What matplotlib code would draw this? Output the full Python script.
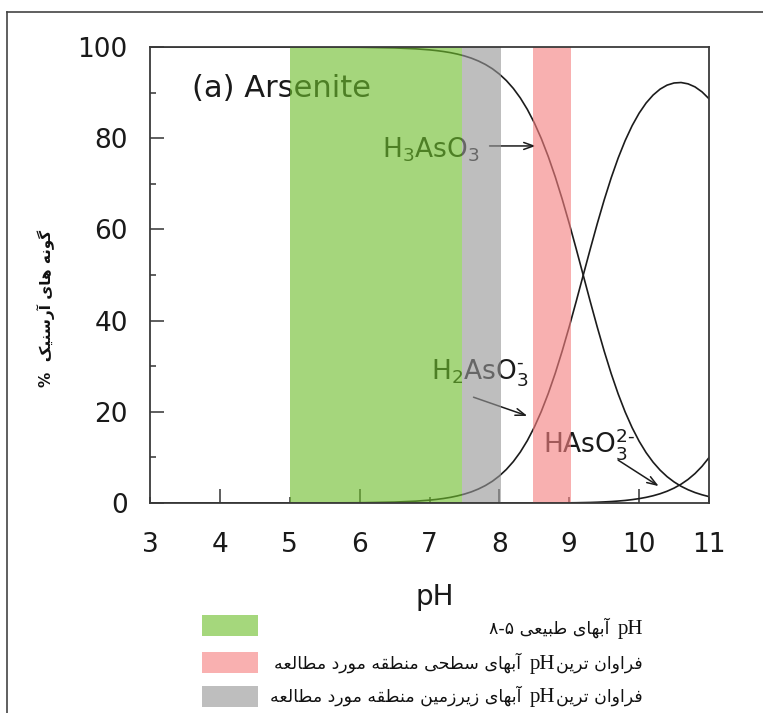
import matplotlib
matplotlib.use("Agg")
import matplotlib.pyplot as plt
from matplotlib.lines import Line2D
from matplotlib.patches import Rectangle
from matplotlib.offsetbox import TextArea, HPacker, AnnotationBbox
import matplotlib.colors as mcolors

# ---------------- data ----------------
ph = [3.0, 4.0, 5.0, 5.5, 6.0, 6.5, 6.8,
      7.0, 7.1, 7.2, 7.3, 7.4, 7.5, 7.6, 7.7, 7.8, 7.9,
      8.0, 8.1, 8.2, 8.3, 8.4, 8.5, 8.6, 8.7, 8.8, 8.9,
      9.0, 9.1, 9.2, 9.3, 9.4, 9.5, 9.6, 9.7, 9.8, 9.9,
      10.0, 10.1, 10.2, 10.3, 10.4, 10.5, 10.6, 10.7, 10.8, 10.9, 11.0]
h3aso3 = [100.0, 100.0, 99.99, 99.98, 99.94, 99.8, 99.6,
          99.37, 99.21, 99.01, 98.76, 98.44, 98.04, 97.55, 96.93, 96.17, 95.23,
          94.06, 92.64, 90.91, 88.82, 86.32, 83.37, 79.92, 75.96, 71.51, 66.59,
          61.29, 55.70, 49.96, 44.21, 38.62, 33.31, 28.38, 23.92, 19.96, 16.51,
          13.55, 11.04, 8.95, 7.21, 5.78, 4.62, 3.67, 2.91, 2.29, 1.80, 1.40]
h2aso3 = [0.0, 0.0, 0.01, 0.02, 0.06, 0.2, 0.4,
          0.63, 0.79, 0.99, 1.24, 1.56, 1.96, 2.45, 3.07, 3.83, 4.77,
          5.94, 7.36, 9.09, 11.18, 13.68, 16.63, 20.08, 24.03, 28.47, 33.38,
          38.67, 44.24, 49.96, 55.66, 61.21, 66.46, 71.30, 75.65, 79.47, 82.75,
          85.49, 87.72, 89.46, 90.76, 91.64, 92.11, 92.21, 91.92, 91.25, 90.16, 88.65]
haso3 = [0.0, 0.0, 0.0, 0.0, 0.0, 0.0, 0.0,
         0.0, 0.0, 0.0, 0.0, 0.0, 0.0, 0.0, 0.0, 0.0, 0.0,
         0.0, 0.0, 0.0, 0.0, 0.0, 0.0, 0.0, 0.01, 0.02, 0.03,
         0.04, 0.06, 0.09, 0.12, 0.17, 0.24, 0.32, 0.43, 0.56, 0.74,
         0.96, 1.24, 1.59, 2.03, 2.58, 3.27, 4.12, 5.17, 6.46, 8.04, 9.95]

band_lo = [5.0, 7.47, 8.48]
band_hi = [7.47, 8.03, 9.02]
band_names = ["natural", "groundwater", "surface"]
band_target = {"natural": "#a5d77c", "groundwater": "#bebebe", "surface": "#f9b0b0"}

x_ticks = [3, 4, 5, 6, 7, 8, 9, 10, 11]
x_labels = ["3", "4", "5", "6", "7", "8", "9", "10", "11"]
y_ticks = [0, 20, 40, 60, 80, 100]
y_labels = ["0", "20", "40", "60", "80", "100"]
y_minor = [10, 30, 50, 70, 90]

panel_title = "(a) Arsenite"
species_labels = [r"H$_3$AsO$_3$", r"H$_2$AsO$_3^{\text{-}}$", r"HAsO$_3^{2\text{-}}$"]
xlabel = "pH"
ylabel_fa = "گونه های آرسنیک  %"
legend_rows = [
    ("natural", "آبهای طبیعی ۵-۸", "pH", ""),
    ("surface", "آبهای سطحی منطقه مورد مطالعه", "pH", "فراوان ترین"),
    ("groundwater", "آبهای زیرزمین منطقه مورد مطالعه", "pH", "فراوان ترین"),
]

# ---------------- minimal Persian shaping (contextual forms + RTL order) ----------------
FORMS = {
    "ا": ("\uFE8D", "\uFE8E", None, None),
    "آ": ("\uFE81", "\uFE82", None, None),
    "ب": ("\uFE8F", "\uFE90", "\uFE91", "\uFE92"),
    "ت": ("\uFE95", "\uFE96", "\uFE97", "\uFE98"),
    "ح": ("\uFEA1", "\uFEA2", "\uFEA3", "\uFEA4"),
    "د": ("\uFEA9", "\uFEAA", None, None),
    "ر": ("\uFEAD", "\uFEAE", None, None),
    "ز": ("\uFEAF", "\uFEB0", None, None),
    "س": ("\uFEB1", "\uFEB2", "\uFEB3", "\uFEB4"),
    "ط": ("\uFEC1", "\uFEC2", "\uFEC3", "\uFEC4"),
    "ع": ("\uFEC9", "\uFECA", "\uFECB", "\uFECC"),
    "ف": ("\uFED1", "\uFED2", "\uFED3", "\uFED4"),
    "ق": ("\uFED5", "\uFED6", "\uFED7", "\uFED8"),
    "ل": ("\uFEDD", "\uFEDE", "\uFEDF", "\uFEE0"),
    "م": ("\uFEE1", "\uFEE2", "\uFEE3", "\uFEE4"),
    "ن": ("\uFEE5", "\uFEE6", "\uFEE7", "\uFEE8"),
    "ه": ("\uFEE9", "\uFEEA", "\uFEEB", "\uFEEC"),
    "و": ("\uFEED", "\uFEEE", None, None),
    "ی": ("\uFBFC", "\uFBFD", "\uFBFE", "\uFBFF"),
    "ک": ("\uFB8E", "\uFB8F", "\uFB90", "\uFB91"),
    "گ": ("\uFB92", "\uFB93", "\uFB94", "\uFB95"),
}


def shape_rtl(s):
    out = []
    for i, ch in enumerate(s):
        if ch not in FORMS:
            out.append(ch)
            continue
        prev = s[i - 1] if i > 0 else ""
        nxt = s[i + 1] if i + 1 < len(s) else ""
        iso, fin, ini, med = FORMS[ch]
        jp = prev in FORMS and FORMS[prev][2] is not None
        jn = ini is not None and nxt in FORMS
        out.append(med if (jp and jn) else fin if jp else ini if jn else iso)
    vis = out[::-1]
    # keep Latin runs left-to-right
    res, run = [], []
    for ch in vis:
        if ch.isascii() and ch.isalpha():
            run.append(ch)
        else:
            res.extend(run[::-1]); run = []
            res.append(ch)
    res.extend(run[::-1])
    return "".join(res)


def overlay_color(target, alpha):
    r, g, b = mcolors.to_rgb(target)
    return tuple(min(1, max(0, (c - (1 - alpha)) / alpha)) for c in (r, g, b))


# ---------------- figure ----------------
plt.rcParams["font.family"] = ["DejaVu Sans"]
plt.rcParams["mathtext.fontset"] = "dejavusans"

W, H = 763, 713
fig = plt.figure(figsize=(W / 100, H / 100), dpi=100)
ax = fig.add_axes([150 / W, 1 - 503 / H, 559 / W, 456 / H])

line_kw = dict(color="#1c1c1c", lw=1.2, zorder=2)
ax.plot(ph, h3aso3, **line_kw)
ax.plot(ph, h2aso3, **line_kw)
ax.plot(ph, haso3, **line_kw)

ALPHA = 0.62
for lo, hi, name in zip(band_lo, band_hi, band_names):
    ax.axvspan(lo, hi, color=overlay_color(band_target[name], ALPHA), alpha=ALPHA,
               lw=0, zorder=4)

ax.set_xlim(3, 11)
ax.set_ylim(0, 100)

xt_major = [t for t in x_ticks if t % 2 == 0]
xl_major = [l for t, l in zip(x_ticks, x_labels) if t % 2 == 0]
xt_minor = [t for t in x_ticks if t % 2 == 1]
xl_minor = [l for t, l in zip(x_ticks, x_labels) if t % 2 == 1]
ax.set_xticks(xt_major, xl_major)
ax.set_xticks(xt_minor, xl_minor, minor=True)
ax.set_yticks(y_ticks, y_labels)
ax.set_yticks(y_minor, minor=True)

ax.tick_params(axis="both", which="both", direction="in", color="#333333", width=1.1,
               labelsize=19, labelcolor="#1a1a1a", top=False, right=False)
ax.tick_params(axis="both", which="major", length=10)
ax.tick_params(axis="both", which="minor", length=4.5)
ax.tick_params(axis="x", which="both", pad=21)
ax.tick_params(axis="y", which="both", pad=16)
ax.tick_params(axis="y", which="minor", labelleft=False)

for sp in ax.spines.values():
    sp.set_color("#3a3a3a")
    sp.set_linewidth(1.3)
    sp.set_zorder(6)

ax.set_xlabel(xlabel, fontsize=20, color="#1a1a1a")
ax.xaxis.set_label_coords(0.51, -0.175)

txt_kw = dict(color="#1a1a1a", zorder=3)
ax.text(3.6, 91.0, panel_title, fontsize=22, ha="left", va="center", **txt_kw)
ax.text(7.72, 77.5, species_labels[0], fontsize=19, ha="right", va="center", **txt_kw)
ax.text(8.42, 28.5, species_labels[1], fontsize=19, ha="right", va="center", **txt_kw)
ax.text(8.62, 13.0, species_labels[2], fontsize=19, ha="left", va="center", **txt_kw)

arrow_kw = dict(arrowstyle="->,head_length=0.7,head_width=0.25", color="#1c1c1c", lw=1.1,
                shrinkA=0, shrinkB=0)
ax.annotate("", xy=(8.52, 78.3), xytext=(7.86, 78.3), arrowprops=arrow_kw, zorder=3)
ax.annotate("", xy=(8.40, 19.1), xytext=(7.63, 23.2), arrowprops=arrow_kw, zorder=3)
ax.annotate("", xy=(10.28, 3.7), xytext=(9.70, 9.4), arrowprops=arrow_kw, zorder=3)

# y label (Persian, rotated)
fig.text(46 / W, 1 - 308 / H, shape_rtl(ylabel_fa), rotation=90, ha="center", va="center",
         fontsize=11, fontweight="bold", color="#111111")

# ---------------- custom legend below the plot ----------------
rect_y = [615, 652, 686]
text_y = [628, 663, 696]
for (name, left_fa, ph_txt, right_fa), ry, ty in zip(legend_rows, rect_y, text_y):
    fig.add_artist(Rectangle((202 / W, 1 - (ry + 21) / H), 56 / W, 21 / H,
                             transform=fig.transFigure, color=band_target[name], lw=0))
    fa_props = dict(fontsize=12.5, color="#111111", family="DejaVu Sans")
    ph_props = dict(fontsize=15, color="#111111", family="Liberation Serif")
    left_box = HPacker(children=[TextArea(shape_rtl(left_fa), textprops=fa_props),
                                 TextArea(ph_txt, textprops=ph_props)],
                       sep=6, pad=0, align="baseline")
    children = [left_box]
    if right_fa:
        children.append(TextArea(shape_rtl(right_fa), textprops=fa_props))
    box = HPacker(children=children, sep=1, pad=0, align="baseline")
    ab = AnnotationBbox(box, (643 / W, 1 - ty / H), xycoords="figure fraction",
                        box_alignment=(1, 0.5), frameon=False, pad=0)
    fig.add_artist(ab)

# outer frame lines (top and left, as in the reference)
fig.add_artist(Line2D([7 / W, 1], [1 - 12 / H, 1 - 12 / H], transform=fig.transFigure,
                      color="#444444", lw=1.2))
fig.add_artist(Line2D([7 / W, 7 / W], [0, 1 - 12 / H], transform=fig.transFigure,
                      color="#444444", lw=1.2))

fig.savefig("out.png", dpi=100)
